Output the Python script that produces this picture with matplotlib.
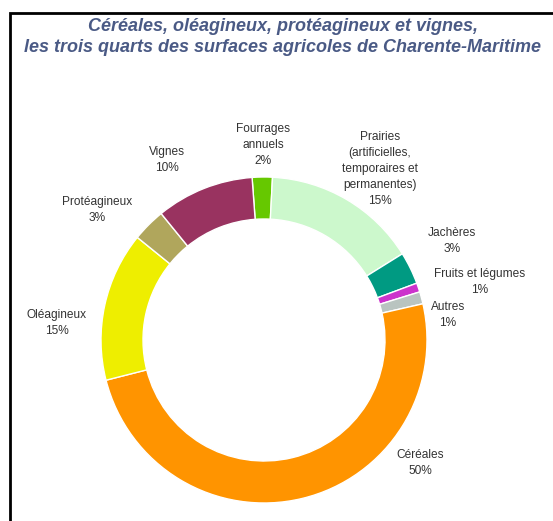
import matplotlib
matplotlib.use("Agg")
import matplotlib.pyplot as plt
from matplotlib.patches import Rectangle

# Data (clockwise from top)
categories = ["Fourrages\nannuels", "Prairies\n(artificielles,\ntemporaires et\npermanentes)",
              "Jachères", "Fruits et légumes", "Autres", "Céréales",
              "Oléagineux", "Protéagineux", "Vignes"]
values = [2.0, 15.3, 3.2, 0.9, 1.2, 49.6, 14.8, 3.3, 9.7]
pct_labels = ["2%", "15%", "3%", "1%", "1%", "50%", "15%", "3%", "10%"]
colors = ["#66c800", "#ccf8cc", "#009a82", "#cc33cc", "#b9c4c0", "#ff9400",
          "#eeee00", "#b0a65c", "#993360"]

# label positions in pixel coordinates (x, y from top)
label_pos = [(263, 145), (380, 169), (452, 241), (480, 282), (448, 315),
             (420, 463), (57, 323), (97, 210), (167, 160)]

W, H = 553, 521
fig = plt.figure(figsize=(W / 100, H / 100), dpi=100)
ax = fig.add_axes([0, 0, 1, 1])

cx, cy, R = 264, H - 340, 163
ax.pie(values, colors=colors, startangle=94.2, counterclock=False,
       center=(cx, cy), radius=R, frame=True,
       wedgeprops=dict(width=42, edgecolor="white", linewidth=1.0))
ax.set_xlim(0, W)
ax.set_ylim(0, H)
ax.set_aspect("equal")
ax.axis("off")

for cat, pct, (x, y) in zip(categories, pct_labels, label_pos):
    ax.text(x, H - y, cat + "\n" + pct, ha="center", va="center",
            fontsize=8.6, color="#333333", family="Liberation Sans",
            linespacing=1.45)

# Title
ax.text(283, H - 37, "Céréales, oléagineux, protéagineux et vignes,\n"
        "les trois quarts des surfaces agricoles de Charente-Maritime",
        ha="center", va="center", fontsize=13, fontweight="bold",
        fontstyle="italic", color="#4a5a85", family="Liberation Sans",
        linespacing=1.35)

# Frame
ax.add_patch(Rectangle((10, -20), W + 20, H - 13 + 20, fill=False,
                       edgecolor="black", linewidth=2.0, clip_on=True))

fig.savefig("out.png", dpi=100)
